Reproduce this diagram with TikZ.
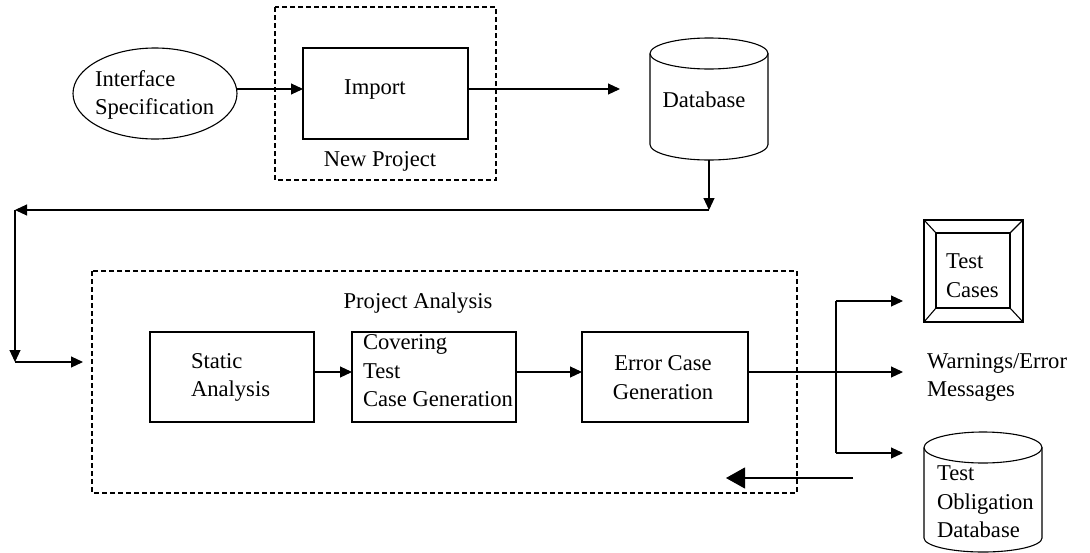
\documentclass[tikz,border=0pt]{standalone}
\usepackage{fontspec}
\setmainfont{Liberation Serif}
\usetikzlibrary{arrows.meta,shapes.geometric}
\begin{document}
\begin{tikzpicture}[x=1pt,y=-1pt,
  every node/.style={font=\fontsize{22.6}{28.5}\selectfont, inner sep=0pt, outer sep=0pt},
  ln/.style={line width=1.1pt},
  arr/.style={ln,-{Triangle[length=12pt,width=11pt]}},
  bigarr/.style={ln,-{Triangle[length=19pt,width=21pt]}},
  box/.style={draw,line width=1.1pt,rectangle},
  grp/.style={draw,line width=1.1pt,dash pattern=on 5pt off 3pt},
  txt/.style={align=left}]
\useasboundingbox (0,0) rectangle (1090,552);
% groups
\draw[grp] (275,7) rectangle (496,180);
\draw[grp] (92,271) rectangle (797,493);
% interface specification
\node[draw,ellipse,line width=1.1pt,minimum width=164,minimum height=91] (spec) at (155,93.5) {};
\node[txt,anchor=west] (spect) at (95,95) {Interface\\Specification};
% import
\node[box,minimum width=165,minimum height=91] (imp) at (385.5,93.5) {};
\node (impt) at (375,90) {Import};
\node (np) at (380,161) {New Project};
% database
\node[minimum width=118,minimum height=122] (db) at (709,99) {};
\draw[ln] (709,53.5) ellipse [x radius=59pt,y radius=15.5pt];
\draw[ln] (650,53.5) -- (650,144.5) arc[start angle=180,end angle=360,x radius=59pt,y radius=15.5pt] -- (768,53.5);
\node (dbt) at (704,100) {Database};
% project analysis
\node (pa) at (418,303) {Project Analysis};
\node[box,minimum width=164,minimum height=90] (sa) at (232,377) {};
\node[txt,anchor=west] (sat) at (191,377.5) {Static\\Analysis};
\node[box,minimum width=164,minimum height=90] (cv) at (434,377) {};
\node[txt,anchor=west] (cvt) at (363,371) {Covering\\Test\\Case Generation};
\node[box,minimum width=166,minimum height=90] (ec) at (665,377) {};
\node[align=center] (ect) at (663,377.5) {Error Case\\Generation};
% outputs
\node[box,minimum width=99,minimum height=102] (tc) at (973.5,271) {};
\node[box,minimum width=74,minimum height=75] (tci) at (973,270.5) {};
\draw[ln] (tc.north west) -- (tci.north west);
\draw[ln] (tc.north east) -- (tci.north east);
\draw[ln] (tc.south west) -- (tci.south west);
\draw[ln] (tc.south east) -- (tci.south east);
\node[txt,anchor=west] (tct) at (946,275.5) {Test\\Cases};
\node[txt,anchor=west] (wm) at (927,377.5) {Warnings/Error\\Messages};
\node[minimum width=118,minimum height=121] (tod) at (983,492) {};
\draw[ln] (983,447.5) ellipse [x radius=59pt,y radius=15.5pt];
\draw[ln] (924,447.5) -- (924,538) arc[start angle=180,end angle=360,x radius=59pt,y radius=14pt] -- (1042,447.5);
\node[txt,anchor=west] (todt) at (937,502) {Test\\Obligation\\Database};
% coordinates
\coordinate (dbin) at (620,89);
\coordinate (c1) at (709,210);
\coordinate (c2) at (15,210);
\coordinate (c3) at (15,362);
\coordinate (c4) at (83,362);
\coordinate (wmin) at (903,372);
\coordinate (br1) at (836,301);
\coordinate (br2) at (836,453);
\coordinate (tcin) at (903,301);
\coordinate (todin) at (903,453);
\coordinate (backs) at (853,478);
\coordinate (backe) at (726,478);
% connectors
\draw[arr] ([yshift=4.5pt]spec.east) -- ([yshift=4.5pt]imp.west);
\draw[arr] ([yshift=4.5pt]imp.east) -- (dbin);
\draw[arr] (db.south) -- (c1);
\draw[arr] (c1) -- (c2);
\draw[arr] (c2) -- (c3);
\draw[arr] (c3) -- (c4);
\draw[arr] ([yshift=5pt]sa.east) -- ([yshift=5pt]cv.west);
\draw[arr] ([yshift=5pt]cv.east) -- ([yshift=5pt]ec.west);
\draw[arr] ([yshift=5pt]ec.east) -- (wmin);
\draw[ln] (br1) -- (br2);
\draw[arr] (br1) -- (tcin);
\draw[arr] (br2) -- (todin);
\draw[bigarr] (backs) -- (backe);
\end{tikzpicture}
\end{document}
